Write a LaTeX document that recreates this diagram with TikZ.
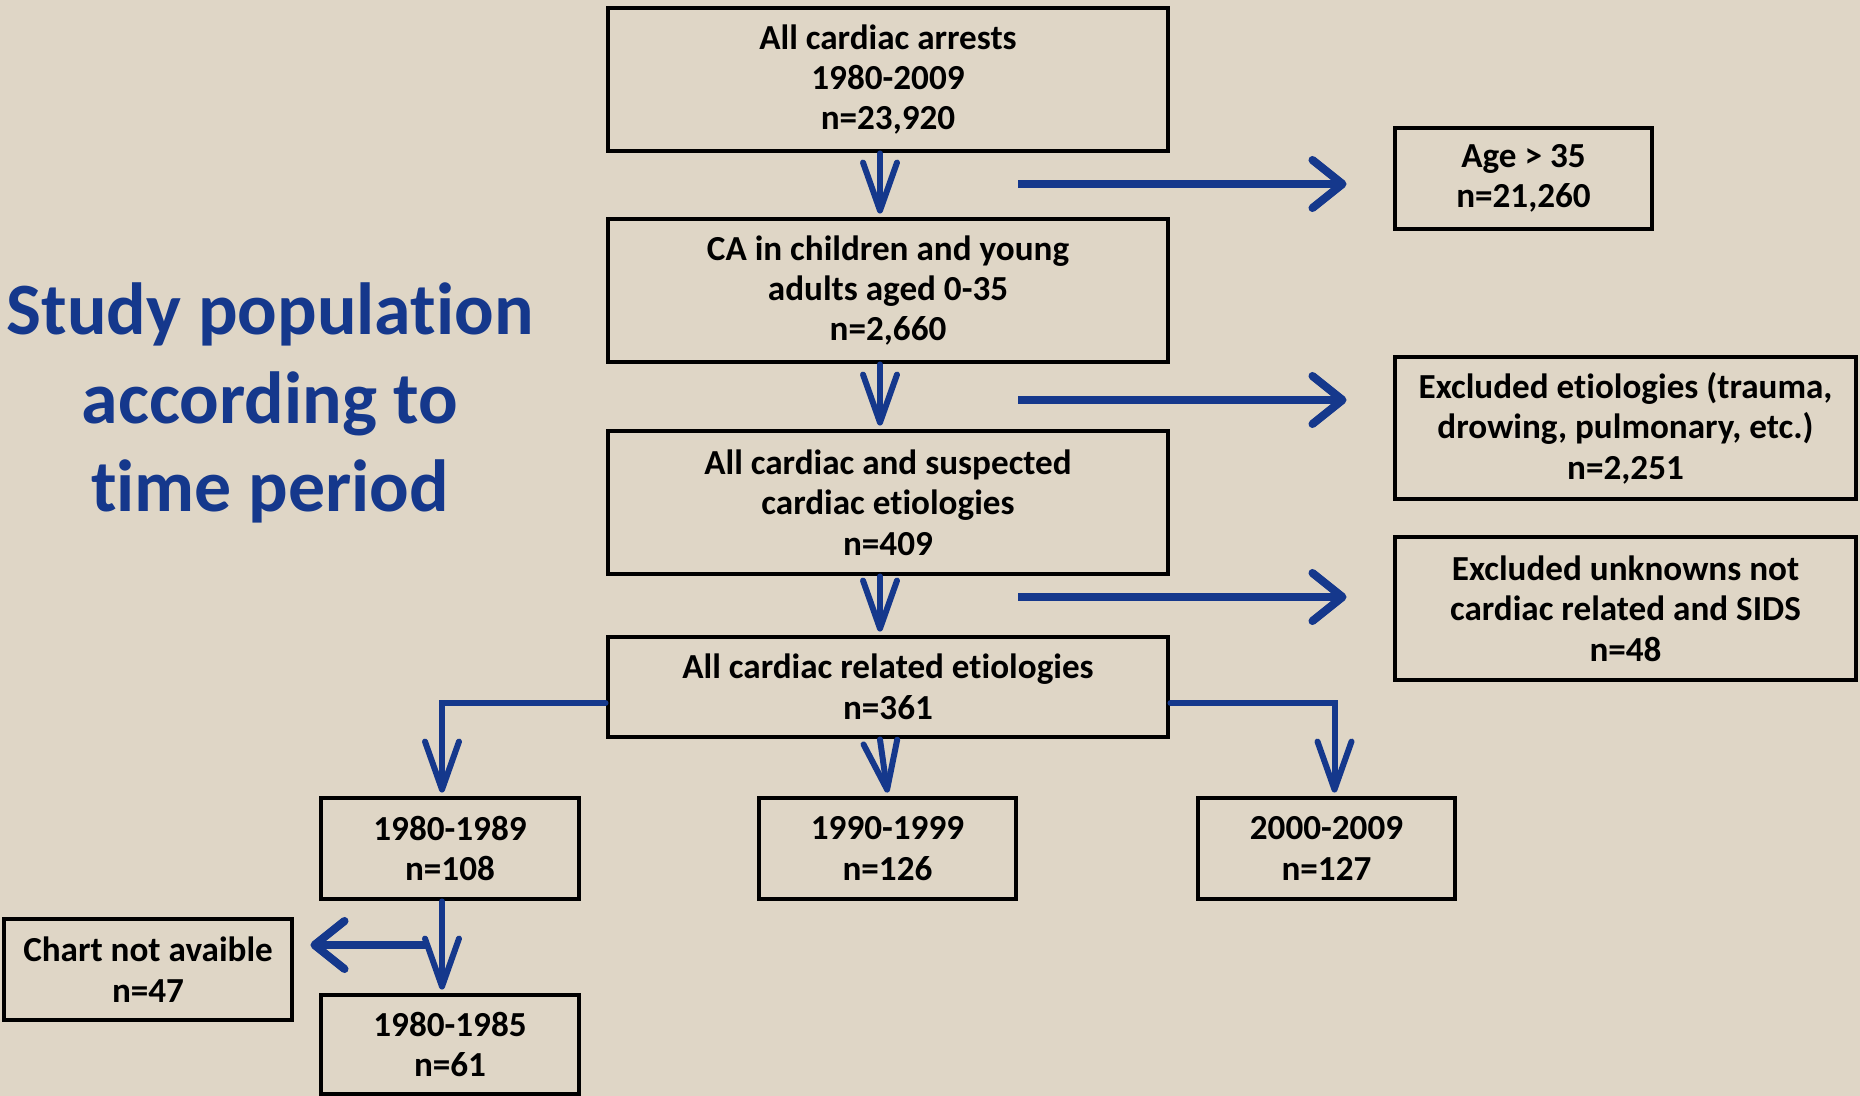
\documentclass[tikz,border=0pt]{standalone}
\usepackage{fontspec}
\setmainfont{Carlito}[Ligatures={NoCommon}]
\usetikzlibrary{arrows.meta,calc}
\definecolor{fond}{RGB}{223,214,198}
\definecolor{bleu}{RGB}{21,56,140}
\tikzset{
  boite/.style={draw=black, line width=1.4pt, rectangle, align=center, inner sep=0pt,
    font=\fontsize{10}{11.5}\selectfont\bfseries},
  fleche/.style={draw=bleu, line width=1.7pt, line cap=round,
    -{Straight Barb[length=4.8mm,width=3.4mm,round]}},
  flechelat/.style={draw=bleu, line width=2.3pt, line cap=butt,
    -{Straight Barb[length=3mm,width=4.8mm,round]}},
}
\begin{document}
\begin{tikzpicture}[x=0.1mm,y=-0.1mm]
        \fill[fond] (0,0) rectangle (1860,1096) ;
        \useasboundingbox (0,0) rectangle (1860,1096) ;
        % titre
        \node[font=\fontsize{21}{25.2}\selectfont\bfseries, text=bleu, align=center] (titre) at (270,403)
            {Study population\\according to\\time period} ;
        % colonne principale
        \node[boite, minimum width=56mm, minimum height=14.3mm] (b1) at (888,79.5)
            {All cardiac arrests\\1980-2009\\n=23,920} ;
        \node[boite, minimum width=56mm, minimum height=14.3mm] (b2) at (888,290.5)
            {CA in children and young\\adults aged 0-35\\n=2,660} ;
        \node[boite, minimum width=56mm, minimum height=14.3mm] (b3) at (888,502.5)
            {All cardiac and suspected\\cardiac etiologies\\n=409} ;
        \node[boite, minimum width=56mm, minimum height=10mm] (b4) at (888,687)
            {All cardiac related etiologies\\n=361} ;
        % exclusions
        \node[boite, minimum width=25.7mm, minimum height=10.1mm] (age) at (1523.5,178.5)
            {Age > 35\\n=21,260} ;
        \node[boite, minimum width=46.1mm, minimum height=14.2mm] (ex1) at (1625.5,428)
            {Excluded etiologies (trauma,\\drowing, pulmonary, etc.)\\n=2,251} ;
        \node[boite, minimum width=46.1mm, minimum height=14.3mm] (ex2) at (1625.5,608.5)
            {Excluded unknowns not\\cardiac related and SIDS\\n=48} ;
        % periodes
        \node[boite, minimum width=25.8mm, minimum height=10.1mm] (p1) at (450,848.5)
            {1980-1989\\n=108} ;
        \node[boite, minimum width=25.7mm, minimum height=10.1mm] (p2) at (887.5,848.5)
            {1990-1999\\n=126} ;
        \node[boite, minimum width=25.7mm, minimum height=10.1mm] (p3) at (1326.5,848.5)
            {2000-2009\\n=127} ;
        \node[boite, minimum width=28.8mm, minimum height=10.1mm] (chart) at (148,969.5)
            {Chart not avaible\\n=47} ;
        \node[boite, minimum width=25.8mm, minimum height=9.9mm] (p1b) at (450,1044.5)
            {1980-1985\\n=61} ;
        % fleches
        \draw[fleche] ([xshift=-0.8mm]b1.south) -- ([xshift=-0.8mm,yshift=0.3mm]b2.north) ;
        \draw[fleche] ([xshift=-0.8mm]b2.south) -- ([xshift=-0.8mm,yshift=0.3mm]b3.north) ;
        \draw[fleche] ([xshift=-0.8mm]b3.south) -- ([xshift=-0.8mm,yshift=0.3mm]b4.north) ;
        \draw[fleche] ([xshift=-0.8mm]b4.south) -- ([yshift=0.3mm]p2.north) ;
        \draw[fleche] ($(b4.west)+(0,16)$) -| ([xshift=-0.8mm,yshift=0.3mm]p1.north) ;
        \draw[fleche] ($(b4.east)+(0,16)$) -| ([xshift=0.8mm,yshift=0.3mm]p3.north) ;
        \draw[fleche] ([xshift=-0.8mm]p1.south) -- ([xshift=-0.8mm,yshift=0.3mm]p1b.north) ;
        \coordinate (d1) at (1018,184) ;
        \coordinate (d2) at (1018,400) ;
        \coordinate (d3) at (1018,597) ;
        \coordinate (d4) at (427,945) ;
        \draw[flechelat] (d1) -- ([xshift=-4.6mm]age.west |- d1) ;
        \draw[flechelat] (d2) -- ([xshift=-4.6mm]ex1.west |- d2) ;
        \draw[flechelat] (d3) -- ([xshift=-4.6mm]ex2.west |- d3) ;
        \draw[flechelat] (d4) -- ([xshift=1.6mm]chart.east |- d4) ;
\end{tikzpicture}
\end{document}
